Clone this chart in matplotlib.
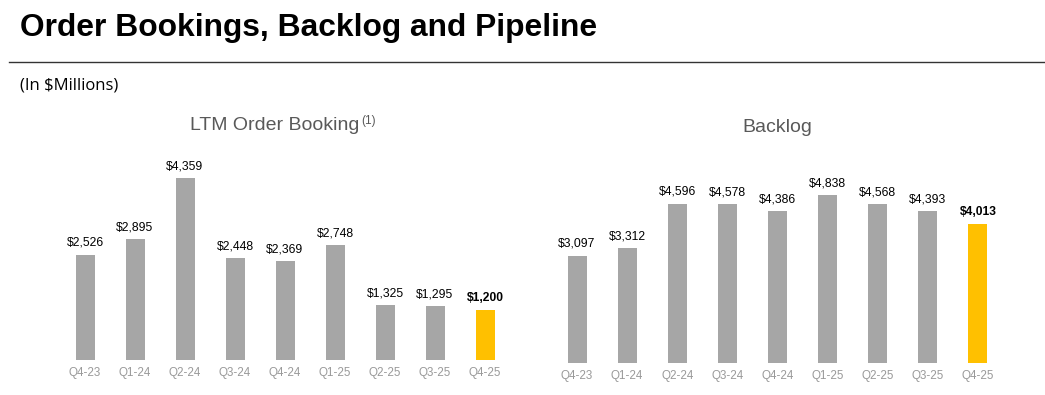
import matplotlib
matplotlib.use("Agg")
import matplotlib.pyplot as plt

quarters = ["Q4-23", "Q1-24", "Q2-24", "Q3-24", "Q4-24", "Q1-25", "Q2-25", "Q3-25", "Q4-25"]
ltm_bookings = [2526, 2895, 4359, 2448, 2369, 2748, 1325, 1295, 1200]
backlog = [3097, 3312, 4596, 4578, 4386, 4838, 4568, 4393, 4013]

GRAY = "#A6A6A6"
GOLD = "#FFC000"
W, H = 1045, 395

plt.rcParams["font.family"] = ["Liberation Sans", "DejaVu Sans"]

fig = plt.figure(figsize=(W / 100, H / 100), dpi=100)


def px_axes(x0, x1, y_top, y_bot):
    return fig.add_axes([x0 / W, 1 - y_bot / H, (x1 - x0) / W, (y_bot - y_top) / H])


def draw_bars(ax, values, ymax):
    colors = [GRAY] * (len(values) - 1) + [GOLD]
    ax.bar(range(len(values)), values, width=0.38, color=colors)
    for i, v in enumerate(values):
        last = i == len(values) - 1
        ax.annotate(f"${v:,}", (i, v), xytext=(0, 4), textcoords="offset points",
                    ha="center", va="bottom", fontsize=8.7,
                    fontweight="bold" if last else "normal", color="black")
    ax.set_xlim(-0.5, len(values) - 0.5)
    ax.set_ylim(0, ymax)
    ax.set_xticks(range(len(values)))
    ax.set_xticklabels(quarters, fontsize=8.4, color="#9A9A9A")
    ax.tick_params(axis="x", length=0, pad=5)
    ax.set_yticks([])
    for s in ax.spines.values():
        s.set_visible(False)


ax1 = px_axes(60, 510, 130, 360)
draw_bars(ax1, ltm_bookings, 230 / 0.04175)

ax2 = px_axes(552, 1003, 130, 363)
draw_bars(ax2, backlog, 233 / 0.0347)

fig.text(20 / W, 1 - 28 / H, "Order Bookings, Backlog and Pipeline", fontsize=22.9,
         fontweight="bold", va="center", ha="left")
fig.add_artist(plt.Line2D([9 / W, 1], [1 - 62 / H, 1 - 62 / H], color="#333333", lw=1))
fig.text(20 / W, 1 - 85 / H, "(In $Millions)", fontsize=12, va="center", ha="left",
         family=["Open Sans", "DejaVu Sans"])

fig.text(190 / W, 1 - 126 / H, "LTM Order Booking", fontsize=14, color="#595959",
         va="center", ha="left")
fig.text(361 / W, 1 - 121 / H, "(1)", fontsize=8.5, color="#595959",
         va="center", ha="left")
fig.text(777 / W, 1 - 128 / H, "Backlog", fontsize=14, color="#595959",
         va="center", ha="center")

fig.savefig("out.png", dpi=100)
